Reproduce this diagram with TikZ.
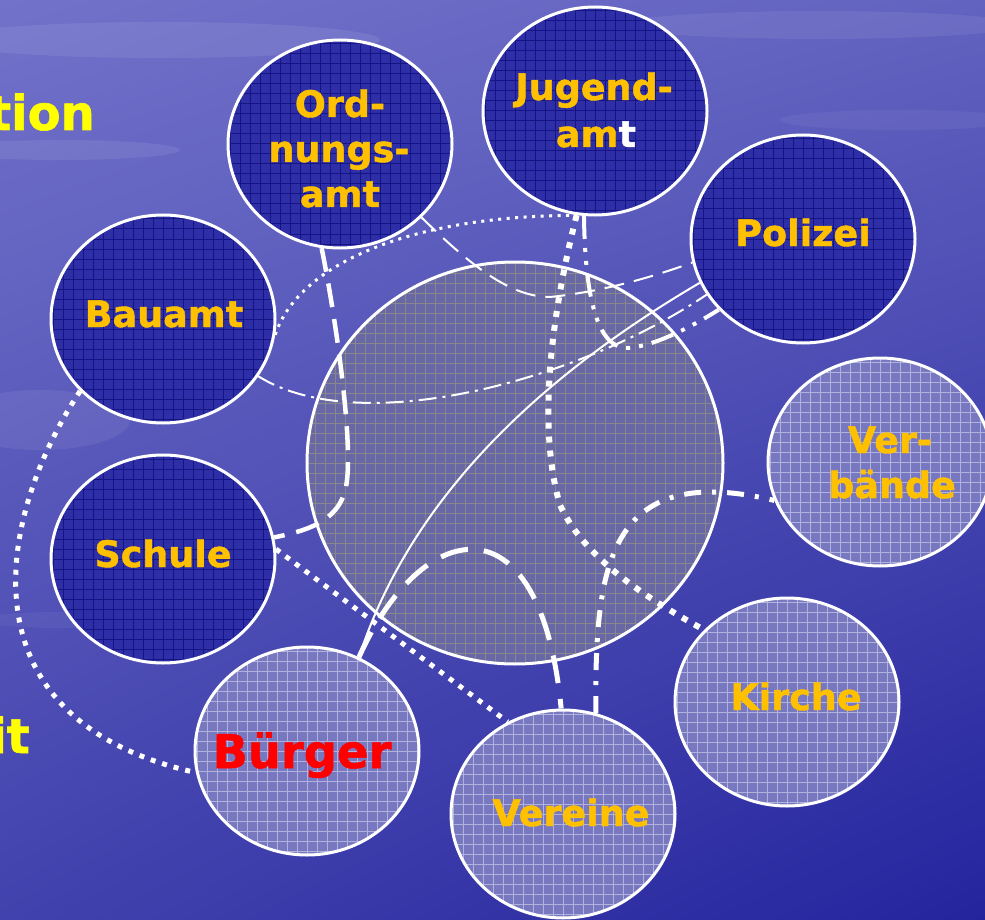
\documentclass[tikz,border=0pt]{standalone}
\usepackage{fontspec}
\setmainfont{DejaVu Sans}
\newfontfamily\labfont{DejaVu Sans Bold}[FakeBold=1.2]
\usetikzlibrary{shapes.geometric,shadings}
\definecolor{bgUL}{RGB}{114,114,202}
\definecolor{bgUR}{RGB}{98,98,192}
\definecolor{bgLL}{RGB}{66,66,174}
\definecolor{bgLR}{RGB}{36,36,158}
\definecolor{darkfill}{RGB}{46,46,166}
\definecolor{darkgrid}{RGB}{20,20,135}
\definecolor{lightfill}{RGB}{120,120,192}
\definecolor{lightgrid}{RGB}{178,178,222}
\definecolor{cenfill}{RGB}{104,104,166}
\definecolor{cengrid}{RGB}{135,135,140}
\definecolor{labcol}{RGB}{255,192,0}
\definecolor{sideyellow}{RGB}{255,255,0}
\tikzset{
  circ/.style={ellipse, draw=white, line width=3pt, minimum width=224pt, minimum height=208pt, inner sep=0pt},
  darkc/.style={circ, fill=darkfill, path picture={\draw[darkgrid, line width=1pt] ([shift={(-3pt,-3pt)}]path picture bounding box.south west) grid[step=10pt] (path picture bounding box.north east);}},
  lightc/.style={circ, fill=lightfill, path picture={\draw[lightgrid, line width=1pt] ([shift={(-3pt,-3pt)}]path picture bounding box.south west) grid[step=10pt] (path picture bounding box.north east);}},
  centc/.style={ellipse, draw=white, line width=3pt, minimum width=416pt, minimum height=402pt, inner sep=0pt, fill=cenfill, path picture={\draw[cengrid, line width=1pt] ([shift={(-3pt,-3pt)}]path picture bounding box.south west) grid[step=10pt] (path picture bounding box.north east);}},
  lab/.style={font=\fontsize{36.5}{45}\labfont, text=labcol, anchor=base, inner sep=0pt},
  side/.style={font=\fontsize{48}{56}\labfont, text=sideyellow, anchor=base east, inner sep=0pt},
  conn/.style={draw=white},
  dashthick/.style={conn, line width=4.5pt, dash pattern=on 24pt off 12pt},
  dashbig/.style={conn, line width=5pt, dash pattern=on 28pt off 16pt},
  dashthin/.style={conn, line width=2pt, dash pattern=on 20pt off 10pt},
  dotthin/.style={conn, line width=3pt, dash pattern=on 3pt off 5.5pt},
  dotbig/.style={conn, line width=6pt, dash pattern=on 6pt off 8pt},
  dotmid/.style={conn, line width=5pt, dash pattern=on 5pt off 7pt},
  dashdotthin/.style={conn, line width=2pt, dash pattern=on 18pt off 6pt on 3pt off 6pt},
  dashdotdot/.style={conn, line width=4pt, dash pattern=on 23pt off 9pt on 4pt off 9pt on 4pt off 9pt},
  dashdotbig/.style={conn, line width=5pt, dash pattern=on 17pt off 11pt on 4pt off 11pt},
  solidthin/.style={conn, line width=2pt},
}
\begin{document}
\begin{tikzpicture}[x=1pt,y=-1pt]
\useasboundingbox (0,0) rectangle (985,920);
\clip (0,0) rectangle (985,920);
\begin{scope}[y=1pt]
\shade[upper left=bgUL, upper right=bgUR, lower left=bgLL, lower right=bgLR] (0,-920) rectangle (985,0);
\end{scope}
% faint cloud / water streaks
\fill[white, opacity=0.08] (160,40) ellipse (220 and 18);
\fill[white, opacity=0.07] (820,25) ellipse (200 and 14);
\fill[white, opacity=0.08] (60,150) ellipse (120 and 10);
\fill[white, opacity=0.07] (40,420) ellipse (90 and 30);
\fill[white, opacity=0.05] (900,120) ellipse (120 and 10);
\fill[white, opacity=0.05] (60,620) ellipse (80 and 8);

% central circle
\node[centc] (cen) at (515,463) {};

% surrounding circles
\node[darkc] (ord) at (340,144) {};
\node[darkc] (jug) at (595,111) {};
\node[darkc] (pol) at (803,239) {};
\node[darkc] (bau) at (163,319) {};
\node[darkc] (sch) at (163,559) {};
\node[lightc] (bur) at (307,751) {};
\node[lightc] (ver) at (563,814) {};
\node[lightc] (kir) at (787,702) {};
\node[lightc] (vb) at (880,462) {};

% connectors
\draw[dashthick] (ord.260) .. controls (338,330) and (352,440) .. (347,480) .. controls (343,520) and (310,530) .. (sch.11);
\draw[dotthin] (bau.-8) .. controls (300,260) and (420,215) .. (jug.261);
\draw[dotbig] (jug.260) .. controls (555,300) and (535,420) .. (560,505) .. controls (585,560) and (650,600) .. (kir.139);
\draw[dashdotdot] (jug.264) .. controls (585,290) and (595,345) .. (625,348) .. controls (650,348) and (690,328) .. (pol.220);
\draw[dashthin] (ord.-42) .. controls (470,265) and (510,297) .. (550,297) .. controls (600,292) and (650,278) .. (pol.192);
\draw[dashdotthin] (bau.-31) .. controls (360,440) and (580,380) .. (pol.210);
\draw[solidthin] (bur.61) .. controls (400,530) and (500,400) .. (pol.203);
\draw[dotmid] (sch.5) -- (ver.121);
\draw[dotmid] (bau.221) .. controls (-5,520) and (-40,720) .. (bur.191);
\draw[dashbig] (bur.61) .. controls (420,520) and (540,490) .. (ver.91);
\draw[dashdotbig] (ver.72) .. controls (595,570) and (605,460) .. (vb.200);

% labels
\node[lab] (ordA) at (340,117) {Ord-};
\node[lab] (ordB) at (339,162) {nungs-};
\node[lab] (ordC) at (340,207) {amt};
\node[lab] (jugA) at (594,100) {Jugend-};
\node[lab] (jugB) at (596,147) {am{\color{white}t}};
\node[lab] (polA) at (803,246) {Polizei};
\node[lab] (bauA) at (164,327) {Bauamt};
\node[lab] (schA) at (163,567) {Schule};
\node[lab] (vbA) at (890,453) {Ver-};
\node[lab] (vbB) at (892,498) {bände};
\node[lab] (kirA) at (796,710) {Kirche};
\node[lab] (verA) at (571,826) {Vereine};
\node[lab, font=\fontsize{46.4}{52}\labfont, text=red] (burA) at (302,768) {Bürger};

% cut-off side texts
\node[side] (sideA) at (95,130) {tion};
\node[side] (sideB) at (30,753) {it};
\end{tikzpicture}
\end{document}
